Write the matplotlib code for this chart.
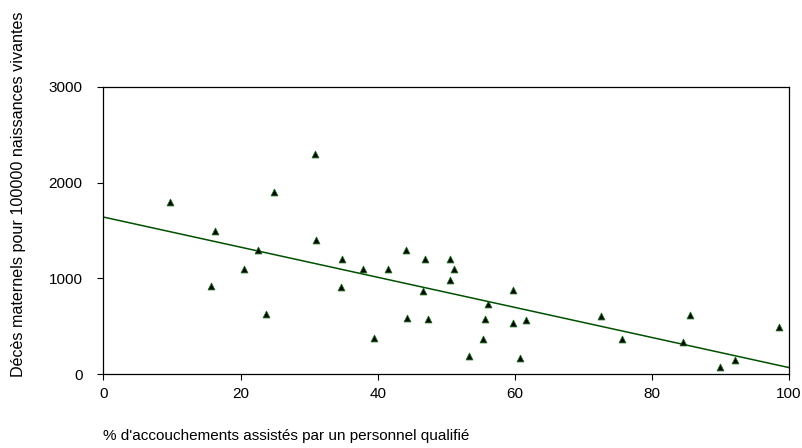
import matplotlib
matplotlib.use("Agg")
import matplotlib.pyplot as plt
import numpy as np

plt.rcParams['font.family'] = ['Liberation Sans', 'DejaVu Sans']

# Data
pct_assisted = [9.7, 16.3, 15.7, 20.5, 22.6, 23.7, 24.9, 30.9, 31.0, 34.8,
                34.6, 37.8, 41.5, 39.5, 44.2, 44.3, 46.9, 46.6, 47.3, 50.5,
                51.1, 50.5, 59.8, 56.1, 55.6, 59.8, 61.7, 55.4, 53.3, 60.8,
                72.6, 75.6, 84.5, 85.6, 89.9, 92.1, 98.5]
maternal_deaths = [1800, 1500, 920, 1100, 1300, 630, 1900, 2300, 1400, 1200,
                   910, 1100, 1100, 380, 1300, 590, 1200, 870, 580, 1200,
                   1100, 980, 880, 730, 580, 540, 570, 370, 190, 170,
                   610, 370, 335, 620, 80, 150, 490]
trend_intercept = 1640
trend_slope = -15.7

x_ticks = [0, 20, 40, 60, 80, 100]
y_ticks = [0, 1000, 2000, 3000]

fig = plt.figure(figsize=(8.03, 4.48), dpi=100)
ax = fig.add_axes([103.5/803, 1-374.3/448, (789-103.5)/803, (374.3-86.7)/448])

ax.scatter(pct_assisted, maternal_deaths, marker='^', s=24, facecolor='black',
           edgecolor='#1a6a1a', linewidths=0.6, zorder=3, clip_on=False)
xl = np.array([0, 100])
ax.plot(xl, trend_intercept + trend_slope * xl, color='#005000', lw=1.1, zorder=2)

ax.set_xlim(0, 100)
ax.set_ylim(0, 3000)
ax.set_xticks(x_ticks)
ax.set_yticks(y_ticks)
ax.tick_params(axis='both', direction='out', length=4, width=0.8, labelsize=11, colors='black')
ax.tick_params(axis='y', pad=11)
ax.tick_params(axis='x', pad=5)
for s in ax.spines.values():
    s.set_linewidth(0.9)
    s.set_color('black')

fig.text(19/803, 1-194/448, "Décès maternels pour 100000 naissances vivantes",
         rotation=90, ha='center', va='center', fontsize=11.6)
fig.text(103/803, 1-436/448, "% d'accouchements assistés par un personnel qualifié",
         ha='left', va='center', fontsize=11)

fig.savefig("out.png", dpi=100)
